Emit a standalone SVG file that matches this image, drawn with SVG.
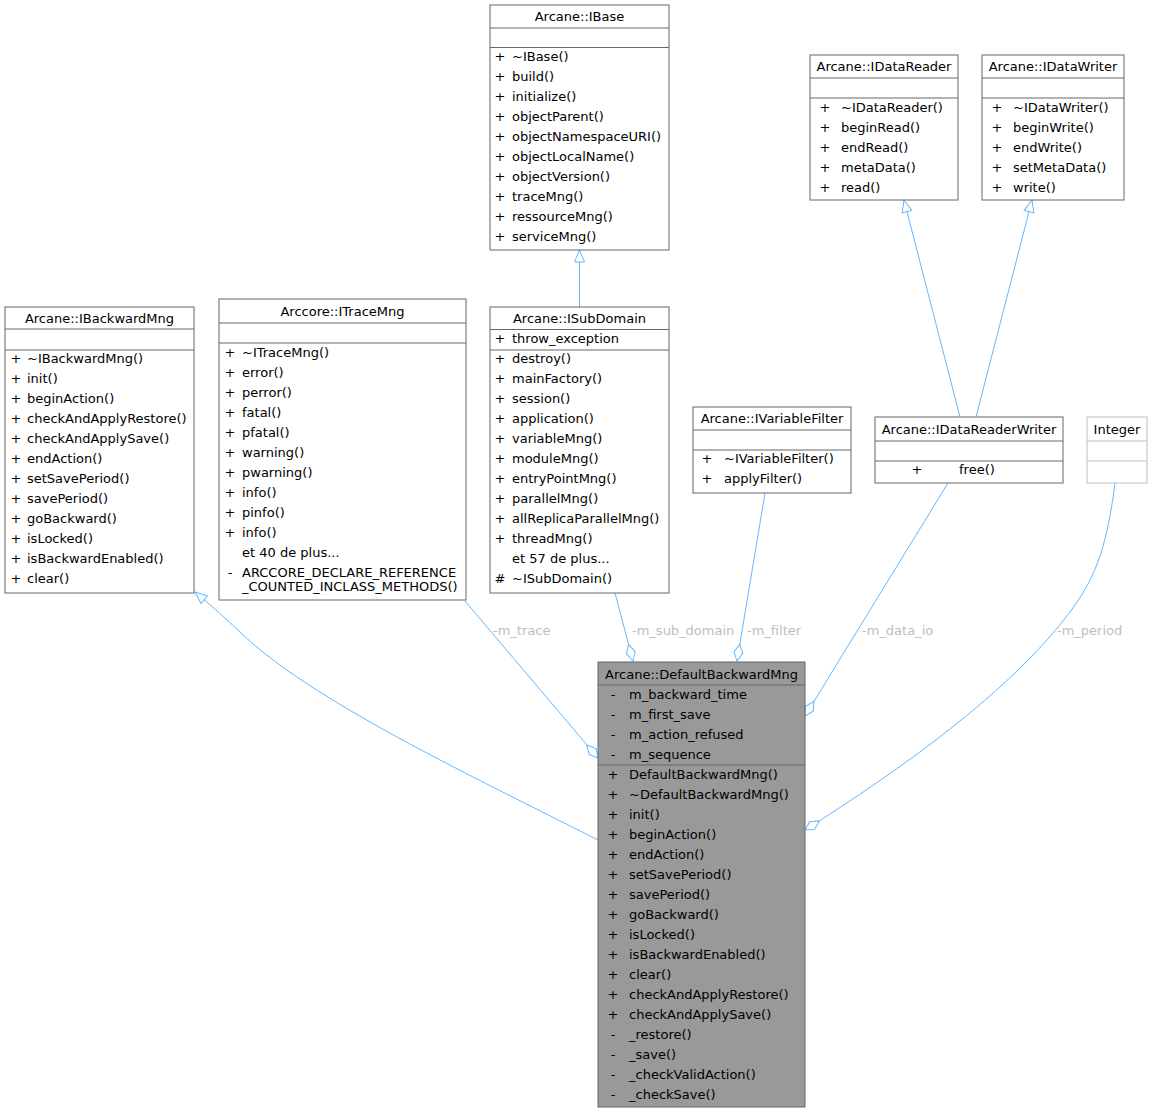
<svg xmlns="http://www.w3.org/2000/svg" width="1153" height="1113" viewBox="0 0 1153 1113">
<style>
text{font-family:"DejaVu Sans","Liberation Sans",sans-serif;font-size:13px;fill:#000}
.c{text-anchor:middle}
.box{fill:#fff;stroke:#666;stroke-width:1}
.sep{stroke:#666;stroke-width:1}
.gbox{fill:#fff;stroke:#bfbfbf;stroke-width:1}
.gsep{stroke:#bfbfbf;stroke-width:1}
.dbox{fill:#999;stroke:#666;stroke-width:1}
.e{fill:none;stroke:#63b8ff;stroke-width:1}
.inh{marker-end:url(#tri)}
.agg{marker-end:url(#dia)}
text.lbl{fill:#bebebe}
</style>
<defs>
<marker id="tri" viewBox="-1 -7 15 14" refX="12" refY="0" markerWidth="15" markerHeight="14" markerUnits="userSpaceOnUse" orient="auto">
<path d="M0,-5 L12,0 L0,5 Z" fill="#fff" stroke="#63b8ff" stroke-width="1"/>
</marker>
<marker id="dia" viewBox="-1 -6 20 12" refX="17" refY="0" markerWidth="20" markerHeight="12" markerUnits="userSpaceOnUse" orient="auto">
<path d="M0,0 L8.5,-4.5 L17,0 L8.5,4.5 Z" fill="#fff" stroke="#63b8ff" stroke-width="1"/>
</marker>
</defs>
<rect width="1153" height="1113" fill="#fff"/>

<g id="connectors">
<path class="e inh" d="M579.5,307 L579.5,250"/>
<path class="e inh" d="M960,417 L904,200"/>
<path class="e inh" d="M976,417 L1032,200"/>
<path class="e inh" d="M598,840 C470,775 310,700 240,632 C222,615 207,602 195,592"/>
<path class="e agg" d="M465,601 L598,758"/>
<path class="e agg" d="M615,593 L633,661"/>
<path class="e agg" d="M765,493 L737,661"/>
<path class="e agg" d="M948,483 L805,716"/>
<path class="e agg" d="M1115,483 C1106,555 1092,582 1070,612 C1010,692 900,770 805,830"/>
<text class="lbl" x="493" y="634.5">-m_trace</text>
<text class="lbl" x="632" y="634.5">-m_sub_domain</text>
<text class="lbl" x="747" y="634.5">-m_filter</text>
<text class="lbl" x="862" y="634.5">-m_data_io</text>
<text class="lbl" x="1057" y="634.5">-m_period</text>
</g>

<g id="IBase">
<rect class="box" x="490" y="5" width="179" height="245"/>
<line class="sep" x1="490" y1="28" x2="669" y2="28"/>
<line class="sep" x1="490" y1="47.5" x2="669" y2="47.5"/>
<text class="c" x="579.5" y="21">Arcane::IBase</text>
<g>
<text class="c" x="500" y="60.5">+</text><text x="512" y="60.5">~IBase()</text>
<text class="c" x="500" y="80.5">+</text><text x="512" y="80.5">build()</text>
<text class="c" x="500" y="100.5">+</text><text x="512" y="100.5">initialize()</text>
<text class="c" x="500" y="120.5">+</text><text x="512" y="120.5">objectParent()</text>
<text class="c" x="500" y="140.5">+</text><text x="512" y="140.5">objectNamespaceURI()</text>
<text class="c" x="500" y="160.5">+</text><text x="512" y="160.5">objectLocalName()</text>
<text class="c" x="500" y="180.5">+</text><text x="512" y="180.5">objectVersion()</text>
<text class="c" x="500" y="200.5">+</text><text x="512" y="200.5">traceMng()</text>
<text class="c" x="500" y="220.5">+</text><text x="512" y="220.5">ressourceMng()</text>
<text class="c" x="500" y="240.5">+</text><text x="512" y="240.5">serviceMng()</text>
</g>
</g>

<g id="IDataReader">
<rect class="box" x="810" y="55" width="148" height="145"/>
<line class="sep" x1="810" y1="78" x2="958" y2="78"/>
<line class="sep" x1="810" y1="98" x2="958" y2="98"/>
<text class="c" x="884" y="71">Arcane::IDataReader</text>
<text class="c" x="825" y="111.5">+</text><text x="841" y="111.5">~IDataReader()</text>
<text class="c" x="825" y="131.5">+</text><text x="841" y="131.5">beginRead()</text>
<text class="c" x="825" y="151.5">+</text><text x="841" y="151.5">endRead()</text>
<text class="c" x="825" y="171.5">+</text><text x="841" y="171.5">metaData()</text>
<text class="c" x="825" y="191.5">+</text><text x="841" y="191.5">read()</text>
</g>

<g id="IDataWriter">
<rect class="box" x="982" y="55" width="142" height="145"/>
<line class="sep" x1="982" y1="78" x2="1124" y2="78"/>
<line class="sep" x1="982" y1="98" x2="1124" y2="98"/>
<text class="c" x="1053" y="71">Arcane::IDataWriter</text>
<text class="c" x="997" y="111.5">+</text><text x="1013" y="111.5">~IDataWriter()</text>
<text class="c" x="997" y="131.5">+</text><text x="1013" y="131.5">beginWrite()</text>
<text class="c" x="997" y="151.5">+</text><text x="1013" y="151.5">endWrite()</text>
<text class="c" x="997" y="171.5">+</text><text x="1013" y="171.5">setMetaData()</text>
<text class="c" x="997" y="191.5">+</text><text x="1013" y="191.5">write()</text>
</g>

<g id="IBackwardMng">
<rect class="box" x="5" y="307" width="189" height="286"/>
<line class="sep" x1="5" y1="329" x2="194" y2="329"/>
<line class="sep" x1="5" y1="350" x2="194" y2="350"/>
<text class="c" x="99.5" y="323">Arcane::IBackwardMng</text>
<text class="c" x="16" y="362.5">+</text><text x="27" y="362.5">~IBackwardMng()</text>
<text class="c" x="16" y="382.5">+</text><text x="27" y="382.5">init()</text>
<text class="c" x="16" y="402.5">+</text><text x="27" y="402.5">beginAction()</text>
<text class="c" x="16" y="422.5">+</text><text x="27" y="422.5">checkAndApplyRestore()</text>
<text class="c" x="16" y="442.5">+</text><text x="27" y="442.5">checkAndApplySave()</text>
<text class="c" x="16" y="462.5">+</text><text x="27" y="462.5">endAction()</text>
<text class="c" x="16" y="482.5">+</text><text x="27" y="482.5">setSavePeriod()</text>
<text class="c" x="16" y="502.5">+</text><text x="27" y="502.5">savePeriod()</text>
<text class="c" x="16" y="522.5">+</text><text x="27" y="522.5">goBackward()</text>
<text class="c" x="16" y="542.5">+</text><text x="27" y="542.5">isLocked()</text>
<text class="c" x="16" y="562.5">+</text><text x="27" y="562.5">isBackwardEnabled()</text>
<text class="c" x="16" y="582.5">+</text><text x="27" y="582.5">clear()</text>
</g>

<g id="ITraceMng">
<rect class="box" x="219" y="299" width="247" height="301"/>
<line class="sep" x1="219" y1="323" x2="466" y2="323"/>
<line class="sep" x1="219" y1="343" x2="466" y2="343"/>
<text class="c" x="342.5" y="315.5">Arccore::ITraceMng</text>
<text class="c" x="230" y="356.5">+</text><text x="242" y="356.5">~ITraceMng()</text>
<text class="c" x="230" y="376.5">+</text><text x="242" y="376.5">error()</text>
<text class="c" x="230" y="396.5">+</text><text x="242" y="396.5">perror()</text>
<text class="c" x="230" y="416.5">+</text><text x="242" y="416.5">fatal()</text>
<text class="c" x="230" y="436.5">+</text><text x="242" y="436.5">pfatal()</text>
<text class="c" x="230" y="456.5">+</text><text x="242" y="456.5">warning()</text>
<text class="c" x="230" y="476.5">+</text><text x="242" y="476.5">pwarning()</text>
<text class="c" x="230" y="496.5">+</text><text x="242" y="496.5">info()</text>
<text class="c" x="230" y="516.5">+</text><text x="242" y="516.5">pinfo()</text>
<text class="c" x="230" y="536.5">+</text><text x="242" y="536.5">info()</text>
<text x="242" y="556.5">et 40 de plus...</text>
<text class="c" x="230" y="576.5">-</text><text x="242" y="576.5">ARCCORE_DECLARE_REFERENCE</text>
<text x="242" y="590.5">_COUNTED_INCLASS_METHODS()</text>
</g>

<g id="ISubDomain">
<rect class="box" x="490" y="307" width="179" height="286"/>
<line class="sep" x1="490" y1="329.5" x2="669" y2="329.5"/>
<line class="sep" x1="490" y1="350" x2="669" y2="350"/>
<text class="c" x="579.5" y="322.5">Arcane::ISubDomain</text>
<text class="c" x="500" y="342.5">+</text><text x="512" y="342.5">throw_exception</text>
<text class="c" x="500" y="362.5">+</text><text x="512" y="362.5">destroy()</text>
<text class="c" x="500" y="382.5">+</text><text x="512" y="382.5">mainFactory()</text>
<text class="c" x="500" y="402.5">+</text><text x="512" y="402.5">session()</text>
<text class="c" x="500" y="422.5">+</text><text x="512" y="422.5">application()</text>
<text class="c" x="500" y="442.5">+</text><text x="512" y="442.5">variableMng()</text>
<text class="c" x="500" y="462.5">+</text><text x="512" y="462.5">moduleMng()</text>
<text class="c" x="500" y="482.5">+</text><text x="512" y="482.5">entryPointMng()</text>
<text class="c" x="500" y="502.5">+</text><text x="512" y="502.5">parallelMng()</text>
<text class="c" x="500" y="522.5">+</text><text x="512" y="522.5">allReplicaParallelMng()</text>
<text class="c" x="500" y="542.5">+</text><text x="512" y="542.5">threadMng()</text>
<text x="512" y="562.5">et 57 de plus...</text>
<text class="c" x="500" y="582.5">#</text><text x="512" y="582.5">~ISubDomain()</text>
</g>

<g id="IVariableFilter">
<rect class="box" x="693" y="407" width="158" height="86"/>
<line class="sep" x1="693" y1="430" x2="851" y2="430"/>
<line class="sep" x1="693" y1="450" x2="851" y2="450"/>
<text class="c" x="772" y="422.5">Arcane::IVariableFilter</text>
<text class="c" x="707" y="462.5">+</text><text x="724" y="462.5">~IVariableFilter()</text>
<text class="c" x="707" y="482.5">+</text><text x="724" y="482.5">applyFilter()</text>
</g>

<g id="IDataReaderWriter">
<rect class="box" x="875" y="417" width="188" height="66"/>
<line class="sep" x1="875" y1="441" x2="1063" y2="441"/>
<line class="sep" x1="875" y1="461" x2="1063" y2="461"/>
<text class="c" x="969" y="433.5">Arcane::IDataReaderWriter</text>
<text class="c" x="917" y="473.5">+</text><text x="959" y="473.5">free()</text>
</g>

<g id="Integer">
<rect class="gbox" x="1087" y="417" width="60" height="66"/>
<line class="gsep" x1="1087" y1="441" x2="1147" y2="441"/>
<line class="gsep" x1="1087" y1="461" x2="1147" y2="461"/>
<text class="c" x="1117" y="433.5">Integer</text>
</g>

<g id="DefaultBackwardMng">
<rect class="dbox" x="598" y="662" width="207" height="445"/>
<line class="sep" x1="598" y1="685" x2="805" y2="685"/>
<line class="sep" x1="598" y1="765" x2="805" y2="765"/>
<text class="c" x="701.5" y="679">Arcane::DefaultBackwardMng</text>
<text class="c" x="613" y="698.5">-</text><text x="629" y="698.5">m_backward_time</text>
<text class="c" x="613" y="718.5">-</text><text x="629" y="718.5">m_first_save</text>
<text class="c" x="613" y="738.5">-</text><text x="629" y="738.5">m_action_refused</text>
<text class="c" x="613" y="758.5">-</text><text x="629" y="758.5">m_sequence</text>
<text class="c" x="613" y="778.5">+</text><text x="629" y="778.5">DefaultBackwardMng()</text>
<text class="c" x="613" y="798.5">+</text><text x="629" y="798.5">~DefaultBackwardMng()</text>
<text class="c" x="613" y="818.5">+</text><text x="629" y="818.5">init()</text>
<text class="c" x="613" y="838.5">+</text><text x="629" y="838.5">beginAction()</text>
<text class="c" x="613" y="858.5">+</text><text x="629" y="858.5">endAction()</text>
<text class="c" x="613" y="878.5">+</text><text x="629" y="878.5">setSavePeriod()</text>
<text class="c" x="613" y="898.5">+</text><text x="629" y="898.5">savePeriod()</text>
<text class="c" x="613" y="918.5">+</text><text x="629" y="918.5">goBackward()</text>
<text class="c" x="613" y="938.5">+</text><text x="629" y="938.5">isLocked()</text>
<text class="c" x="613" y="958.5">+</text><text x="629" y="958.5">isBackwardEnabled()</text>
<text class="c" x="613" y="978.5">+</text><text x="629" y="978.5">clear()</text>
<text class="c" x="613" y="998.5">+</text><text x="629" y="998.5">checkAndApplyRestore()</text>
<text class="c" x="613" y="1018.5">+</text><text x="629" y="1018.5">checkAndApplySave()</text>
<text class="c" x="613" y="1038.5">-</text><text x="629" y="1038.5">_restore()</text>
<text class="c" x="613" y="1058.5">-</text><text x="629" y="1058.5">_save()</text>
<text class="c" x="613" y="1078.5">-</text><text x="629" y="1078.5">_checkValidAction()</text>
<text class="c" x="613" y="1098.5">-</text><text x="629" y="1098.5">_checkSave()</text>
</g>
</svg>
